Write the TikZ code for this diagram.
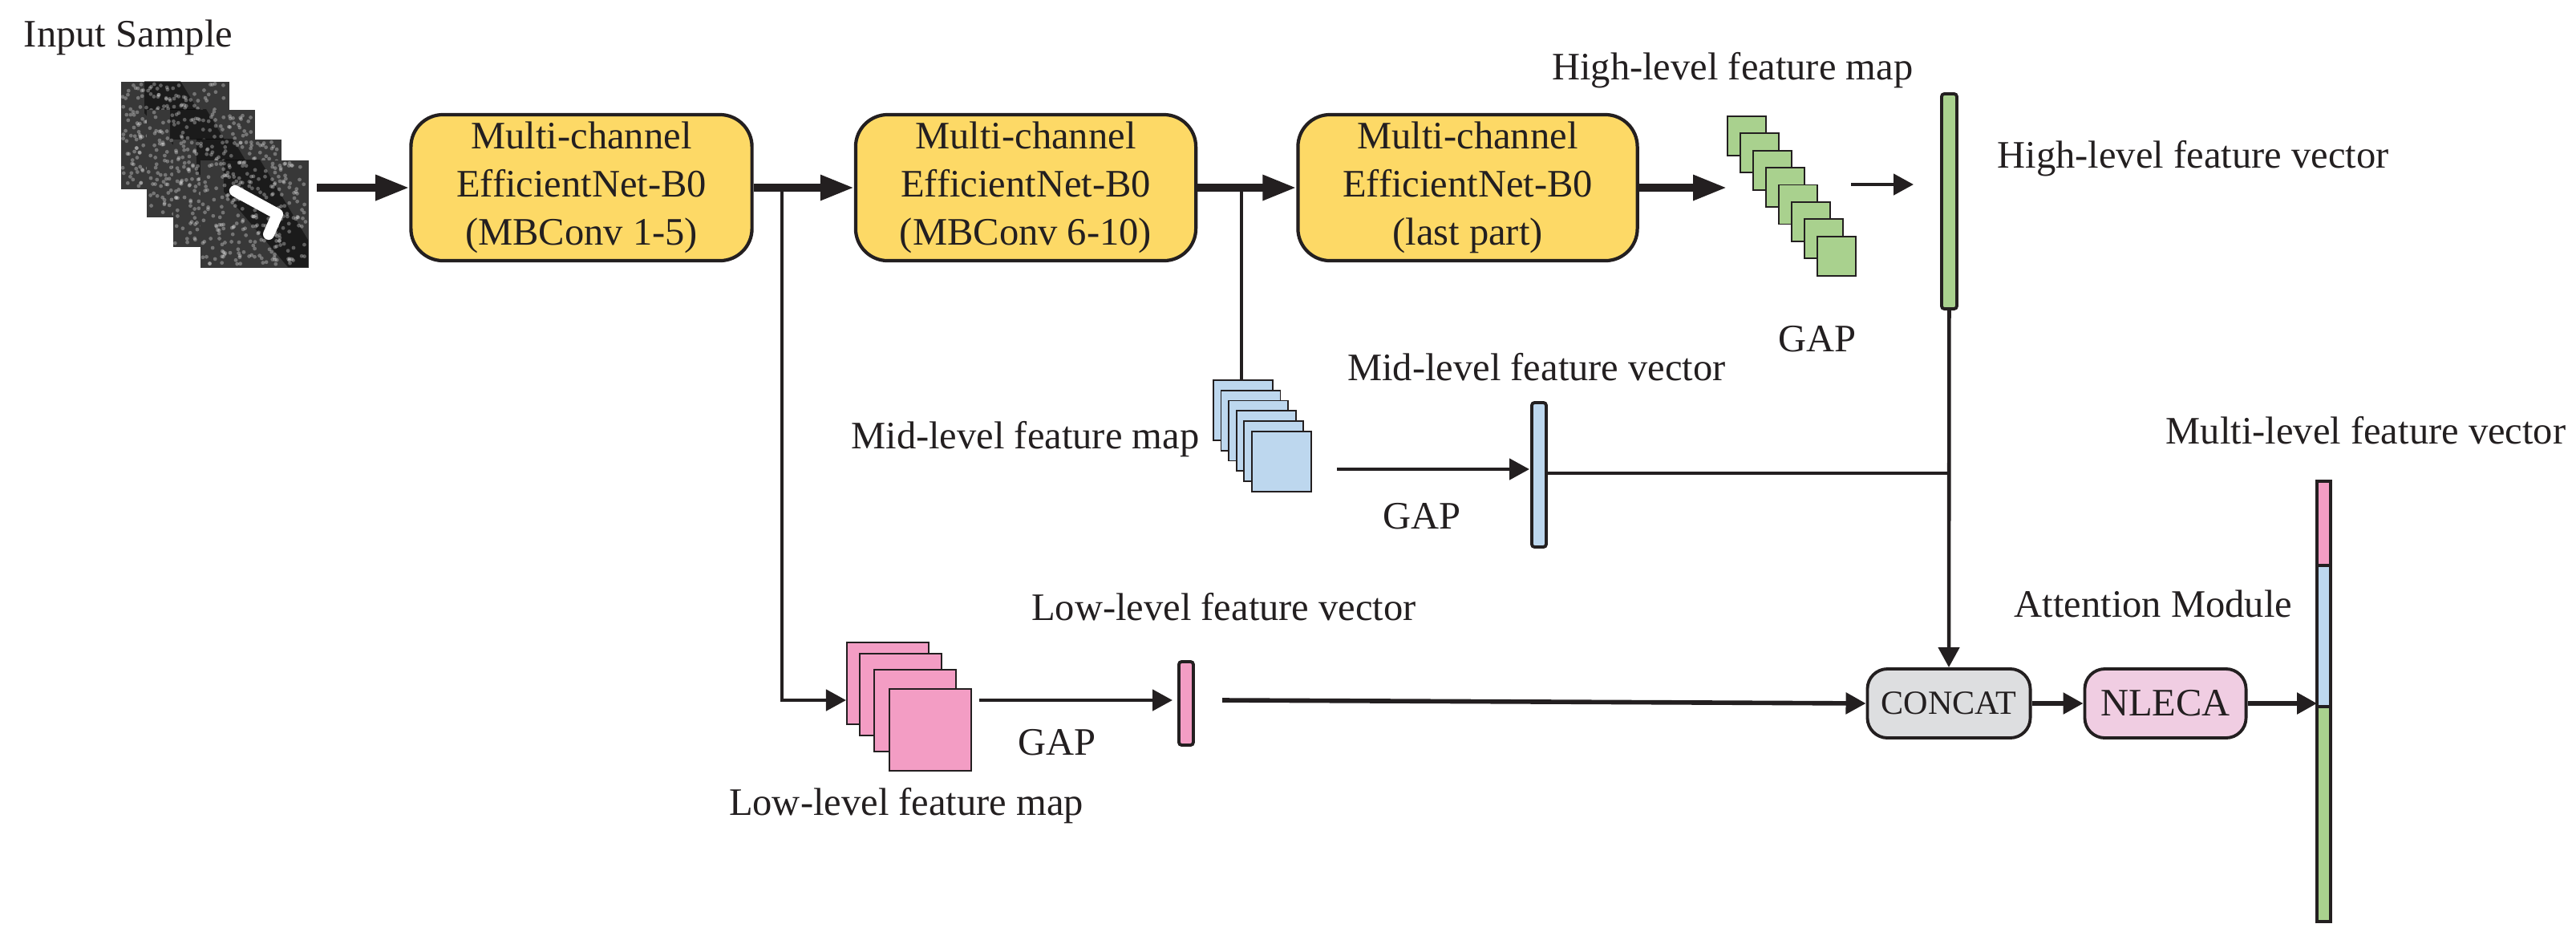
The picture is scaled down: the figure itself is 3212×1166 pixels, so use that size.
\documentclass[tikz,border=0pt]{standalone}
\usepackage{fontspec}
\setmainfont{Liberation Serif}
\usetikzlibrary{arrows.meta}
\definecolor{yel}{HTML}{FDD966}
\definecolor{grn}{HTML}{A9D18E}
\definecolor{blu}{HTML}{BDD7EE}
\definecolor{pnk}{HTML}{F39DC4}
\definecolor{cgray}{HTML}{DDDEE0}
\definecolor{nlc}{HTML}{F0CDE2}
\definecolor{ink}{HTML}{231F20}
\begin{document}
\begin{tikzpicture}[x=0.01cm,y=-0.01cm,
  every node/.style={font=\fontsize{13.8}{17}\selectfont,text=ink},
  lbl/.style={inner sep=0pt},
  box/.style={draw=ink,line width=1.2pt,rounded corners=0.4cm,fill=yel,align=center,minimum height=1.82cm,inner sep=0pt},
  sbox/.style={draw=ink,line width=1.1pt,rounded corners=0.25cm,minimum width=2.03cm,minimum height=0.86cm,inner sep=0pt},
  big/.style={draw=ink,line width=2.6pt,-{Triangle[length=0.42cm,width=0.3cm]}},
  med/.style={draw=ink,line width=1.3pt,-{Triangle[length=0.25cm,width=0.26cm]}},
  thin/.style={draw=ink,line width=0.9pt},
  sq/.style={draw=ink,line width=0.5pt},
  vec/.style={draw=ink,line width=1.1pt,rounded corners=1pt}]
\useasboundingbox (0,0) rectangle (3212,1166);

% input sample
\node[lbl] (in) at (160,47) {Input Sample};
\pgfmathsetseed{7}
\foreach \x/\y/\n in {150/101/1,182/136/2,215/173/3,249/199/4}{
  \node[fill=black!78,minimum width=1.35cm,minimum height=1.34cm,inner sep=0pt,anchor=north west] (img\n) at (\x,\y) {};
  \fill[black,opacity=0.5] (\x+30,\y) -- (\x+75,\y) -- (\x+135,\y+100) -- (\x+135,\y+134) -- (\x+110,\y+134) -- (\x+30,\y+40) -- cycle;
  \foreach \k in {1,...,260}{
    \fill[white,opacity=0.3] ({\x+3+rnd*129},{\y+3+rnd*128}) circle (2.4);
  }
}
\draw[white,line width=4pt,line cap=round,line join=round] (293,238) -- (346,267) -- (335,292);

% main boxes
\node[box,minimum width=4.25cm] (b1) at (725,234) {Multi-channel\\EfficientNet-B0\\(MBConv 1-5)};
\node[box,minimum width=4.24cm] (b2) at (1279,234) {Multi-channel\\EfficientNet-B0\\(MBConv 6-10)};
\node[box,minimum width=4.23cm] (b3) at (1830,234) {Multi-channel\\EfficientNet-B0\\(last part)};

\coordinate (s0) at (395,234);
\draw[big] (s0) -- (b1.west);
\draw[big] (b1.east) -- (b2.west);
\draw[big] (b2.east) -- (b3.west);

% high-level map
\foreach \i in {0,...,7}{
  \node[sq,fill=grn,minimum width=0.48cm,minimum height=0.49cm,inner sep=0pt,anchor=north west] (g\i) at ({2153+16*\i},{144+21.4*\i}) {};
}
\coordinate (gin) at (2153,234);
\draw[big] (b3.east) -- (gin);
\node[lbl,anchor=east] (hm) at (2386,88) {High-level feature map};
\coordinate (ga1) at (2308,230); \coordinate (ga2) at (2386,230);
\draw[med] (ga1) -- (ga2);
\node[lbl] (gap3) at (2266,423) {GAP};
\node[vec,fill=grn,minimum width=0.19cm,minimum height=2.68cm,inner sep=0pt,anchor=north west] (hv) at (2419,115) {};
\node[lbl,anchor=west] (hvl) at (2490,198) {High-level feature vector};

% mid-level
\coordinate (j2) at (1548,234);
\foreach \i in {0,...,5}{
  \node[sq,fill=blu,minimum width=0.74cm,minimum height=0.75cm,inner sep=0pt,anchor=north west] (m\i) at ({1512+9.6*\i},{473+12.8*\i}) {};
}
\coordinate (m0t) at (1548,473);
\draw[thin] (j2) -- (m0t);
\node[lbl,anchor=east] (mml) at (1496,548) {Mid-level feature map};
\coordinate (ma1) at (1667,585); \coordinate (ma2) at (1907,585);
\draw[med] (ma1) -- (ma2);
\node[lbl] (gap2) at (1773,644) {GAP};
\node[vec,fill=blu,minimum width=0.18cm,minimum height=1.8cm,inner sep=0pt,anchor=north west] (mv) at (1908,500) {};
\node[lbl] (mvl) at (1916,458) {Mid-level feature vector};
\coordinate (hj) at (2429,590);
\draw[ink,line width=1.3pt] (mv.east |- hj) -- (hj);

% low-level
\coordinate (j1) at (975,234);
\coordinate (lin) at (1055,873);
\draw[thin] (j1) |- ([xshift=-0.3cm]lin);
\draw[med] ([xshift=-0.3cm]lin) -- (lin);
\foreach \x/\y/\n in {1055/800/1,1071/814/2,1089/834/3,1108/858/4}{
  \node[sq,fill=pnk,minimum width=1.02cm,minimum height=1.02cm,inner sep=0pt,anchor=north west] (p\n) at (\x,\y) {};
}
\node[lbl] (lml) at (1130,1005) {Low-level feature map};
\coordinate (la1) at (1221,873); \coordinate (la2) at (1462,873);
\draw[med] (la1) -- (la2);
\node[lbl] (gap1) at (1318,926) {GAP};
\node[vec,fill=pnk,minimum width=0.18cm,minimum height=1.04cm,inner sep=0pt,anchor=north west] (lv) at (1468,823) {};
\node[lbl] (lvl) at (1526,757) {Low-level feature vector};

% fusion
\node[sbox,fill=cgray,font=\fontsize{12}{14}\selectfont] (cc) at (2430,877) {CONCAT};
\node[sbox,fill=nlc,minimum width=2.01cm] (nl) at (2700,877) {NLECA};
\node[lbl] (am) at (2685,753) {Attention Module};
\coordinate (lstart) at (1524,873);
\draw[med,line width=1.6pt] (lstart) -- (cc.west);
\draw[med] (hv.south) -- (cc.north);
\draw[med,line width=1.6pt] (cc.east) -- (nl.west);
\begin{scope}[line width=1.1pt,draw=ink]
\filldraw[fill=pnk] (2889,600) rectangle (2906,705);
\filldraw[fill=blu] (2889,705) rectangle (2906,881);
\filldraw[fill=grn] (2889,881) rectangle (2906,1149);
\end{scope}
\coordinate (mvin) at (2889,877);
\draw[med,line width=1.6pt] (nl.east) -- (mvin);
\node[lbl] (mlv) at (2950,537) {Multi-level feature vector};
\end{tikzpicture}
\end{document}
